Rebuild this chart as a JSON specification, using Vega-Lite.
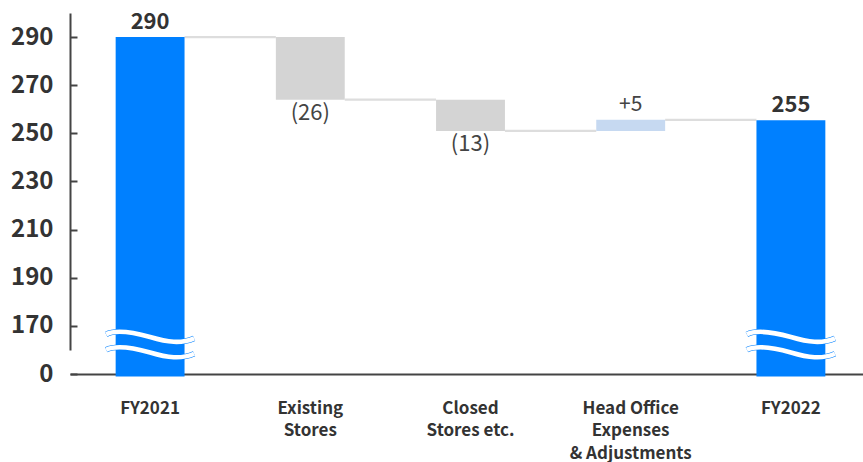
{
  "$schema": "https://vega.github.io/schema/vega-lite/v6.json",
  "width": 793,
  "height": 361,
  "autosize": "none",
  "padding": {"left": 70, "top": 13, "right": 0, "bottom": 88},
  "config": {
    "view": {"stroke": null},
    "font": "Noto Sans CJK JP",
    "axisY": {
      "title": null,
      "grid": false,
      "labelFont": "Noto Sans CJK JP",
      "labelFontSize": 24,
      "labelFontWeight": "bold",
      "labelColor": "#333333",
      "tickSize": -7,
      "tickWidth": 2,
      "tickColor": "#444444",
      "domainColor": "#444444",
      "domainWidth": 2,
      "domainDash": [0, 24, 400, 0],
      "labelPadding": 24
    },
    "axisX": {
      "title": null,
      "grid": false,
      "ticks": false,
      "labelAngle": 0,
      "labelFont": "Noto Sans CJK JP",
      "labelFontSize": 17,
      "labelFontWeight": "bold",
      "labelColor": "#333333",
      "labelLineHeight": 22.5,
      "labelBaseline": "top",
      "labelPadding": 26,
      "domainColor": "#444444",
      "domainWidth": 2
    }
  },
  "datasets": {
    "steps": [
      {"label": "FY2021", "start": 149, "end": 290, "kind": "total", "text": "290", "next": "Existing Stores"},
      {"label": "Existing Stores", "start": 290, "end": 264, "kind": "decrease", "text": "(26)", "next": "Closed Stores etc."},
      {"label": "Closed Stores etc.", "start": 264, "end": 251, "kind": "decrease", "text": "(13)", "next": "Head Office Expenses & Adjustments"},
      {"label": "Head Office Expenses & Adjustments", "start": 251, "end": 255.6, "kind": "increase", "text": "+5", "next": "FY2022"},
      {"label": "FY2022", "start": 149, "end": 255.4, "kind": "total", "text": "255", "next": null}
    ],
    "breaks": [
      {"label": "FY2021", "y": 161.7},
      {"label": "FY2022", "y": 161.7}
    ]
  },
  "data": {"name": "steps"},
  "encoding": {
    "x": {
      "field": "label",
      "type": "nominal",
      "sort": null,
      "scale": {
        "domain": ["FY2021", "Existing Stores", "Closed Stores etc.", "Head Office Expenses & Adjustments", "FY2022"],
        "range": [0, 801],
        "paddingInner": 0.57,
        "paddingOuter": 0.285
      },
      "axis": {
        "labelExpr": "datum.value == 'Existing Stores' ? ['Existing', 'Stores'] : datum.value == 'Closed Stores etc.' ? ['Closed', 'Stores etc.'] : datum.value == 'Head Office Expenses & Adjustments' ? ['Head Office', 'Expenses', '& Adjustments'] : datum.value"
      }
    }
  },
  "layer": [
    {
      "transform": [{"filter": "datum.next != null"}],
      "mark": {"type": "rule", "color": "#DDDDDD", "strokeWidth": 2.2},
      "encoding": {
        "x": {"field": "label", "type": "nominal", "bandPosition": 1},
        "x2": {"field": "next", "bandPosition": 0},
        "y": {
          "field": "end",
          "type": "quantitative",
          "title": null,
          "scale": {"domain": [150, 300], "nice": false, "zero": false},
          "axis": {
            "values": [150, 170, 190, 210, 230, 250, 270, 290],
            "labelExpr": "datum.value == 150 ? '0' : datum.label"
          }
        }
      }
    },
    {
      "mark": {"type": "bar", "opacity": 1},
      "encoding": {
        "y": {"field": "start", "type": "quantitative", "title": null},
        "y2": {"field": "end"},
        "color": {
          "field": "kind",
          "type": "nominal",
          "legend": null,
          "scale": {"domain": ["total", "decrease", "increase"], "range": ["#0080FF", "#D4D4D4", "#C6D9F1"]}
        }
      }
    },
    {
      "transform": [{"filter": "datum.kind == 'total'"}],
      "mark": {"type": "text", "baseline": "bottom", "dy": -3, "fontSize": 22, "fontWeight": "bold", "color": "#333333", "font": "Noto Sans CJK JP"},
      "encoding": {
        "y": {"field": "end", "type": "quantitative", "title": null},
        "text": {"field": "text"}
      }
    },
    {
      "transform": [{"filter": "datum.kind == 'increase'"}],
      "mark": {"type": "text", "baseline": "bottom", "dy": -5, "fontSize": 21, "color": "#444444", "font": "Noto Sans CJK JP"},
      "encoding": {
        "y": {"field": "end", "type": "quantitative", "title": null},
        "text": {"field": "text"}
      }
    },
    {
      "transform": [{"filter": "datum.kind == 'decrease'"}],
      "mark": {"type": "text", "baseline": "top", "dy": 3, "fontSize": 22, "color": "#444444", "font": "Noto Sans CJK JP"},
      "encoding": {
        "y": {"field": "end", "type": "quantitative", "title": null},
        "text": {"field": "text"}
      }
    },
    {
      "data": {"name": "breaks"},
      "mark": {
        "type": "point",
        "shape": "M-1,-0.26 C-0.8,-0.36 -0.5,-0.34 0,-0.2 C0.4,-0.08 0.7,-0.04 1,-0.17 M-1,0.09 C-0.8,-0.01 -0.5,0.01 0,0.15 C0.4,0.27 0.7,0.31 1,0.18",
        "filled": false,
        "stroke": "#0080FF",
        "strokeWidth": 5.6,
        "opacity": 1,
        "size": 7744
      },
      "encoding": {
        "y": {"field": "y", "type": "quantitative", "title": null}
      }
    },
    {
      "data": {"name": "breaks"},
      "mark": {
        "type": "point",
        "shape": "M-1,-0.26 C-0.8,-0.36 -0.5,-0.34 0,-0.2 C0.4,-0.08 0.7,-0.04 1,-0.17 M-1,0.09 C-0.8,-0.01 -0.5,0.01 0,0.15 C0.4,0.27 0.7,0.31 1,0.18",
        "filled": false,
        "stroke": "#FFFFFF",
        "strokeWidth": 4.6,
        "opacity": 1,
        "size": 7744
      },
      "encoding": {
        "y": {"field": "y", "type": "quantitative", "title": null}
      }
    }
  ]
}
